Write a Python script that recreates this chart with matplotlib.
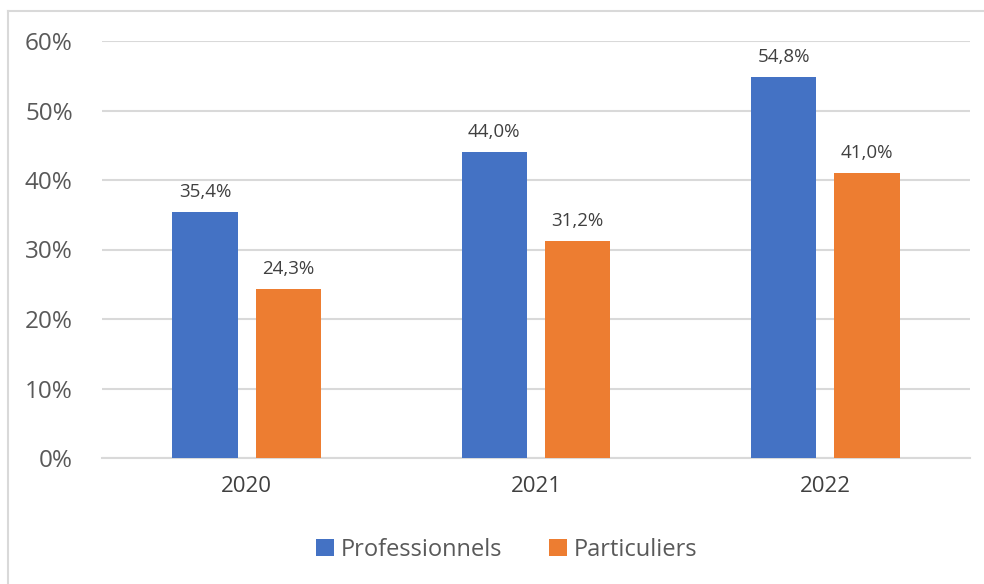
import matplotlib.pyplot as plt
import numpy as np
from matplotlib.lines import Line2D

plt.rcParams['font.family'] = ['Open Sans', 'DejaVu Sans']

years = ['2020', '2021', '2022']
professionnels = [35.4, 44.0, 54.8]
particuliers = [24.3, 31.2, 41.0]

blue = '#4472C4'
orange = '#ED7D31'
txt = '#595959'
grid = '#D9D9D9'

fig = plt.figure(figsize=(9.84, 5.84), dpi=100)
ax = fig.add_axes([102 / 984, 1 - 458 / 584, 868 / 984, 417 / 584])

x = np.arange(len(years))
w = 0.225
off = 0.144
b1 = ax.bar(x - off, professionnels, w, color=blue, label='Professionnels', zorder=3)
b2 = ax.bar(x + off, particuliers, w, color=orange, label='Particuliers', zorder=3)

for bars, vals in ((b1, professionnels), (b2, particuliers)):
    for r, v in zip(bars, vals):
        ax.annotate(f'{v:.1f}%'.replace('.', ','),
                    (r.get_x() + r.get_width() / 2, v),
                    xytext=(0, 8), textcoords='offset points',
                    ha='center', va='bottom', fontsize=13.5, color='#404040')

ax.set_xlim(-0.5, 2.5)
ax.set_ylim(0, 60)
ax.set_yticks(range(0, 61, 10))
ax.set_yticklabels([f'{t}%' for t in range(0, 61, 10)])
ax.set_xticks(x)
ax.set_xticklabels(years)
ax.tick_params(axis='y', length=0, pad=21, labelsize=17.5, labelcolor=txt)
ax.tick_params(axis='x', length=0, pad=13, labelsize=16, labelcolor='#404040')
ax.yaxis.grid(True, color=grid, linewidth=1.5, zorder=0)
for s in ('left', 'right', 'top'):
    ax.spines[s].set_visible(False)
ax.spines['bottom'].set_color(grid)
ax.spines['bottom'].set_linewidth(1.5)

fig.legend(handles=[b1, b2], loc='center', bbox_to_anchor=(0.515, 1 - 550 / 584),
           ncol=2, frameon=False, fontsize=17, labelcolor=txt,
           handlelength=0.75, handleheight=0.75, handletextpad=0.3, columnspacing=2.0)

# outer chart frame (left and top edges visible)
fig.add_artist(Line2D([8 / 984, 8 / 984], [0, 1 - 11 / 584], transform=fig.transFigure,
                      color=grid, linewidth=1.5))
fig.add_artist(Line2D([8 / 984, 1], [1 - 11 / 584, 1 - 11 / 584], transform=fig.transFigure,
                      color=grid, linewidth=1.5))

fig.savefig('out.png', dpi=100, facecolor='white')
